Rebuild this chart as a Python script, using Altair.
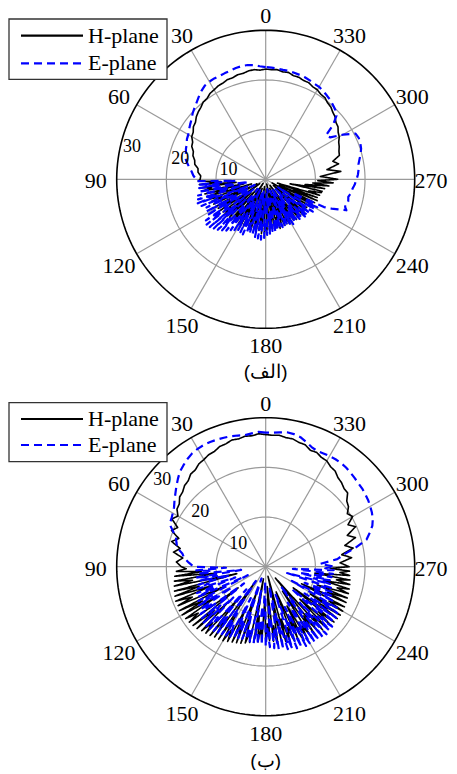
import altair as alt
import pandas as pd

# ---------------- data ----------------
# sampling angles, degrees counter-clockwise from the top:
# 0..90 every 3, 91.5..268.5 every 1.5, 270..357 every 3
ANGLES = ([i * 3 for i in range(31)]
          + [91.5 + i * 1.5 for i in range(119)]
          + [270 + i * 3 for i in range(30)])

TOP_H = [
    # 0 .. 90
    22.2, 22.0, 22.2, 22.1, 21.8, 21.8, 21.5, 21.5, 21.2, 21.1,
    20.8, 20.6, 20.1, 20.0, 19.5, 19.2, 18.8, 18.2, 18.0, 17.4,
    17.2, 16.5, 16.3, 15.6, 15.4, 14.8, 14.6, 13.8, 13.7, 13.1, 13.2,
    # 91.5 .. 268.5
    13.6, 9.0, 13.4, 6.0, 13.0, 11.0, 12.8, 4.5, 12.6, 8.0,
    12.3, 3.0, 12.0, 9.5, 11.8, 5.5, 11.6, 2.0, 11.4, 8.5,
    11.2, 6.0, 11.0, 1.5, 10.8, 9.0, 11.0, 4.0, 10.7, 7.5,
    10.6, 2.5, 10.5, 8.0, 10.8, 5.0, 10.4, 1.0, 10.6, 7.0,
    10.2, 3.5, 10.4, 9.0, 10.0, 2.0, 10.3, 6.5, 10.6, 4.0,
    10.1, 8.0, 10.8, 1.5, 10.4, 6.0, 11.0, 3.0, 10.6, 9.0,
    10.2, 2.0, 10.5, 7.5, 9.8, 4.5, 10.2, 1.0, 9.9, 8.0,
    10.3, 3.0, 9.6, 6.5, 10.0, 2.0, 9.8, 8.5, 10.1, 4.0,
    9.5, 7.0, 9.9, 1.5, 10.2, 5.5, 9.7, 8.0, 10.0, 3.0,
    10.4, 6.0, 10.1, 2.0, 10.3, 8.5, 10.0, 4.5, 10.6, 1.5,
    10.6, 7.0, 10.9, 3.0, 11.2, 6.0, 11.0, 2.5, 11.3, 9.0,
    11.5, 11.6, 5.0, 12.0, 8.0, 12.8, 9.5, 13.6, 10.5,
    # 270 .. 357
    14.5, 11.0, 15.2, 12.5, 15.0, 14.0, 15.6, 15.8, 16.2, 16.5,
    17.1, 17.4, 18.0, 18.2, 18.8, 19.1, 19.6, 19.8, 20.3, 20.4,
    20.8, 20.9, 21.3, 21.3, 21.6, 21.6, 22.0, 21.9, 22.2, 22.1,
]
TOP_E = [
    22.6, 22.8, 23.1, 23.3, 23.3, 23.2, 23.0, 22.9, 22.8, 22.8,
    22.7, 22.5, 22.0, 21.4, 20.8, 20.3, 19.8, 19.2, 18.8, 18.4,
    18.0, 17.8, 17.4, 17.2, 16.9, 16.8, 16.2, 15.6, 15.0, 14.6, 14.0,
    13.9, 6.0, 13.7, 9.5, 13.5, 3.5, 13.8, 8.0, 14.0, 5.0,
    14.2, 10.0, 14.5, 4.0, 14.0, 8.5, 13.2, 2.5, 13.6, 7.0,
    14.0, 4.5, 14.6, 9.5, 15.0, 3.0, 14.8, 8.0, 14.4, 5.5,
    14.0, 10.0, 13.5, 2.5, 13.0, 7.5, 12.4, 4.0, 12.0, 8.5,
    11.6, 2.0, 11.8, 7.0, 12.0, 4.5, 11.4, 9.0, 11.0, 3.0,
    11.5, 6.0, 11.8, 2.5, 12.0, 8.0, 12.2, 4.0, 11.8, 9.0,
    11.2, 3.0, 11.0, 7.5, 10.5, 2.0, 10.8, 8.0, 10.6, 4.0,
    10.4, 7.0, 10.2, 2.5, 10.0, 8.5, 9.8, 3.5, 10.2, 6.0,
    10.6, 2.0, 10.3, 8.0, 10.0, 4.0, 10.5, 7.5, 10.8, 2.5,
    10.9, 9.0, 11.0, 4.5, 11.3, 8.0, 11.5, 3.0, 11.6, 9.5,
    11.8, 6.0, 13.0, 14.5, 15.8, 17.4, 17.0, 16.8, 17.0, 17.2,
    17.1, 17.0, 17.2, 17.4, 17.5, 17.6, 17.8, 18.0, 18.1,
    18.3, 18.6, 18.8, 18.9, 19.3, 19.8, 20.2, 20.4, 20.5, 20.3,
    18.0, 15.5, 15.0, 17.5, 19.2, 19.8, 20.2, 20.6, 20.9, 21.2,
    21.5, 21.6, 21.8, 22.0, 22.1, 22.2, 22.3, 22.3, 22.4, 22.5,
]
BOT_H = [
    26.6, 26.8, 26.5, 26.6, 26.3, 26.4, 26.0, 25.9, 25.4, 25.3,
    24.9, 24.7, 24.1, 24.0, 23.3, 23.1, 22.5, 22.3, 21.5, 21.3,
    20.4, 21.2, 19.4, 20.3, 18.4, 19.6, 17.6, 18.8, 16.8, 18.0, 17.0,
    16.0, 18.0, 13.0, 18.4, 10.0, 18.6, 15.0, 18.8, 6.0, 19.0,
    14.0, 19.2, 11.5, 19.4, 16.0, 19.3, 9.0, 19.5, 14.5, 19.4,
    12.0, 19.2, 16.5, 19.0, 7.0, 18.8, 13.5, 18.6, 10.5, 18.2,
    15.5, 18.0, 8.5, 17.8, 13.0, 17.5, 3.5, 17.4, 12.0, 17.2,
    14.5, 16.9, 9.0, 16.6, 12.5, 16.4, 5.0, 16.2, 11.0, 15.9,
    13.5, 15.6, 2.5, 15.4, 10.0, 15.2, 12.5, 15.0, 6.5, 14.8,
    11.5, 14.9, 4.0, 15.1, 12.0, 15.3, 8.5, 15.5, 2.0, 15.6,
    11.0, 15.7, 13.0, 15.8, 5.5, 16.0, 12.0, 16.1, 9.0, 16.3,
    14.0, 16.5, 6.0, 16.7, 12.5, 16.9, 3.0, 17.1, 13.5, 17.3,
    9.5, 17.5, 14.0, 17.7, 7.0, 17.8, 13.0, 17.9, 10.5, 17.9,
    14.5, 17.8, 8.0, 17.7, 13.5, 17.6, 11.0, 17.5, 15.0, 17.4,
    12.0, 17.3, 14.5, 17.2, 10.0, 17.0, 15.0, 16.9, 13.0,
    16.8, 15.0, 17.4, 15.5, 18.0, 16.5, 19.0, 17.6, 19.8, 18.6,
    20.2, 19.6, 20.6, 21.0, 22.2, 22.3, 22.8, 23.1, 23.8, 24.0,
    24.6, 24.7, 25.2, 25.1, 25.8, 25.9, 26.3, 26.3, 26.6, 26.5,
]
BOT_E = [
    27.0, 27.2, 27.0, 26.8, 27.0, 27.2, 27.3, 27.4, 27.5, 27.5,
    27.4, 27.2, 26.8, 26.3, 25.8, 25.0, 24.2, 23.4, 22.7, 22.0,
    21.6, 21.3, 21.2, 20.0, 19.0, 18.6, 18.2, 17.0, 16.5, 15.5, 14.5,
    8.0, 14.0, 11.0, 13.8, 5.0, 14.2, 10.0, 13.6, 7.5, 14.0,
    12.0, 14.4, 6.5, 14.8, 11.5, 15.0, 4.0, 15.2, 12.0, 15.5,
    8.0, 15.8, 13.0, 16.2, 5.5, 16.5, 12.0, 16.8, 9.0, 16.9,
    14.0, 16.8, 6.0, 16.6, 12.5, 16.4, 3.5, 16.2, 11.0, 16.0,
    13.5, 15.8, 7.0, 15.6, 12.0, 15.4, 2.5, 15.3, 10.5, 15.2,
    13.0, 15.4, 5.0, 15.6, 11.5, 15.8, 8.0, 15.8, 3.0, 16.0,
    12.5, 16.2, 7.5, 16.5, 13.0, 16.8, 4.0, 17.0, 11.0, 17.2,
    14.5, 17.4, 6.0, 17.6, 12.0, 17.8, 9.0, 17.9, 14.0, 18.0,
    8.5, 18.1, 13.0, 18.2, 5.0, 18.2, 12.5, 18.3, 10.0, 18.2,
    14.5, 18.0, 7.0, 17.8, 12.0, 17.5, 9.5, 17.2, 13.0, 16.5,
    6.0, 15.5, 11.0, 14.8, 8.5, 14.2, 12.0, 13.8, 4.5, 13.4,
    10.0, 13.2, 7.0, 13.4, 11.0, 13.6, 5.5, 13.7, 12.0,
    13.8, 11.0, 14.5, 16.0, 18.5, 21.0, 22.0, 23.0, 23.6, 24.0,
    24.3, 24.6, 24.8, 25.0, 25.1, 25.3, 25.5, 25.7, 25.8, 25.8,
    25.7, 25.6, 25.5, 25.8, 26.4, 27.0, 27.3, 27.4, 27.2, 27.0,
]

SERIES = ["H-plane", "E-plane"]
SERIES_COLORS = ["#000000", "#0000ff"]
SERIES_DASH = [[1, 0], [8, 5]]
SERIES_WIDTH = [1.6, 2.2]
ANGLE_TICKS = list(range(0, 360, 30))
RING_TICKS = [10, 20, 30]
CAPTIONS = ["(الف)", "(ب)"]

# ---------------- layout (pixels / units) ----------------
RMAX = 30
PX = 149 / RMAX              # pixels per radial unit
W, H = 441, 762              # whole drawing
CX = 257.7                   # centre x of both polar plots
CY_TOP = 171.3               # centre y of the upper plot (from top)
GAP = 387.4 / PX             # vertical distance between both centres
OFFSETS = [0.0, -GAP]
LEGEND_BOX = [(11, 71.3), (394.7, 453.7)]      # pixel top / bottom of legend boxes
LEGEND_ROWS = [(27.7, 55.3), (411.0, 437.0)]   # pixel y of the legend rows
LABEL_ANG = [76.5, 50]
LABEL_SHIFT = [2.3, 2.8]
CAPTION_Y = [-38.8, -39.1]
LABEL_XMAX = (W - CX - 18) / PX                # keep "270" inside the drawing
SERIF = "Liberation Serif"

xs = alt.Scale(domain=[-CX / PX, (W - CX) / PX], nice=False, zero=False)
ys = alt.Scale(domain=[-(H - CY_TOP) / PX, CY_TOP / PX], nice=False, zero=False)


def X(f):
    return alt.X(f, type="quantitative", scale=xs, axis=None)


def Y(f):
    return alt.Y(f, type="quantitative", scale=ys, axis=None)


def table(h, e):
    rows = []
    for name, vals in zip(SERIES, (h, e)):
        n = len(vals)
        for j in range(n + 1):
            rows.append({"plane": name, "i": j,
                         "ang": ANGLES[j % n] + (360 if j == n else 0),
                         "r": vals[j % n]})
    return pd.DataFrame(rows)


layers = []
for p, (h, e) in enumerate([(TOP_H, TOP_E), (BOT_H, BOT_E)]):
    off = OFFSETS[p]
    spokes = alt.Chart(pd.DataFrame({"a": ANGLE_TICKS})).transform_calculate(
        x0="0", y0=f"{off}",
        x1=f"-{RMAX}*sin(datum.a*PI/180)", y1=f"{RMAX}*cos(datum.a*PI/180)+{off}",
    ).mark_rule(color="#9a9a9a", strokeWidth=1.2).encode(
        x=X("x0"), y=Y("y0"), x2="x1:Q", y2="y1:Q")
    layers.append(spokes)

    for R in RING_TICKS:
        outer = R == RMAX
        ring = alt.Chart(alt.sequence(0, 362, 2, as_="a")).transform_calculate(
            x=f"-{R}*sin(datum.a*PI/180)", y=f"{R}*cos(datum.a*PI/180)+{off}",
        ).mark_line(color="#000000" if outer else "#9a9a9a",
                    strokeWidth=1.6 if outer else 1.2).encode(
            x=X("x"), y=Y("y"), order="a:Q")
        layers.append(ring)

    lines = alt.Chart(table(h, e)).transform_calculate(
        x="-datum.r*sin(datum.ang*PI/180)", y=f"datum.r*cos(datum.ang*PI/180)+{off}",
    ).mark_line(strokeJoin="round").encode(
        x=X("x"), y=Y("y"), order="i:Q",
        color=alt.Color("plane:N", scale=alt.Scale(domain=SERIES, range=SERIES_COLORS), legend=None),
        strokeDash=alt.StrokeDash("plane:N", scale=alt.Scale(domain=SERIES, range=SERIES_DASH), legend=None),
        strokeWidth=alt.StrokeWidth("plane:N", scale=alt.Scale(domain=SERIES, range=SERIES_WIDTH), legend=None),
    )
    layers.append(lines)

    ang_labels = alt.Chart(pd.DataFrame({"a": ANGLE_TICKS})).transform_calculate(
        rr=f"(165+5*abs(sin(datum.a*PI/180)))/{PX}",
        x=f"min(-datum.rr*sin(datum.a*PI/180), {LABEL_XMAX})",
        y=f"datum.rr*cos(datum.a*PI/180)+{off}-{2 / PX}",
        t="toString(datum.a)",
    ).mark_text(font=SERIF, fontSize=22, color="black", align="center", baseline="middle").encode(
        x=X("x"), y=Y("y"), text="t:N")
    layers.append(ang_labels)

    r_labels = alt.Chart(pd.DataFrame({"v": RING_TICKS})).transform_calculate(
        x=f"-(datum.v-{LABEL_SHIFT[p]})*sin({LABEL_ANG[p]}*PI/180)",
        y=f"(datum.v-{LABEL_SHIFT[p]})*cos({LABEL_ANG[p]}*PI/180)+{off}",
        t="toString(datum.v)",
    ).mark_text(font=SERIF, fontSize=18, color="black", align="center", baseline="middle").encode(
        x=X("x"), y=Y("y"), text="t:N")
    layers.append(r_labels)

    cap = alt.Chart(pd.DataFrame({"c": [CAPTIONS[p]]})).transform_calculate(
        x="0", y=f"{CAPTION_Y[p] + off}",
    ).mark_text(fontSize=19, color="black", align="center", baseline="middle").encode(
        x=X("x"), y=Y("y"), text="c:N")
    layers.append(cap)

    # legend box
    top, bot = LEGEND_BOX[p]
    box = alt.Chart(pd.DataFrame({"k": [0]})).mark_rect(
        fill="white", stroke="#333333", strokeWidth=1.3).encode(
        x=alt.value(1), x2=alt.value(159), y=alt.value(top), y2=alt.value(bot))
    layers.append(box)
    for k, name in enumerate(SERIES):
        yy = LEGEND_ROWS[p][k]
        sample = alt.Chart(pd.DataFrame({"plane": [name]})).mark_rule(
            color=SERIES_COLORS[k], strokeDash=SERIES_DASH[k], strokeWidth=2.2).encode(
            x=alt.value(13), x2=alt.value(75), y=alt.value(yy))
        label = alt.Chart(pd.DataFrame({"plane": [name]})).mark_text(
            font=SERIF, fontSize=22, color="black", align="left", baseline="middle").encode(
            x=alt.value(80), y=alt.value(yy), text="plane:N")
        layers += [sample, label]

chart = alt.layer(*layers).resolve_scale(
    color="independent", strokeDash="independent", strokeWidth="independent",
).properties(
    width=W, height=H, padding=0, autosize=alt.AutoSizeParams(type="none"),
).configure_view(stroke=None)

chart.save("out.html", embed_options={"renderer": "svg", "actions": False})
